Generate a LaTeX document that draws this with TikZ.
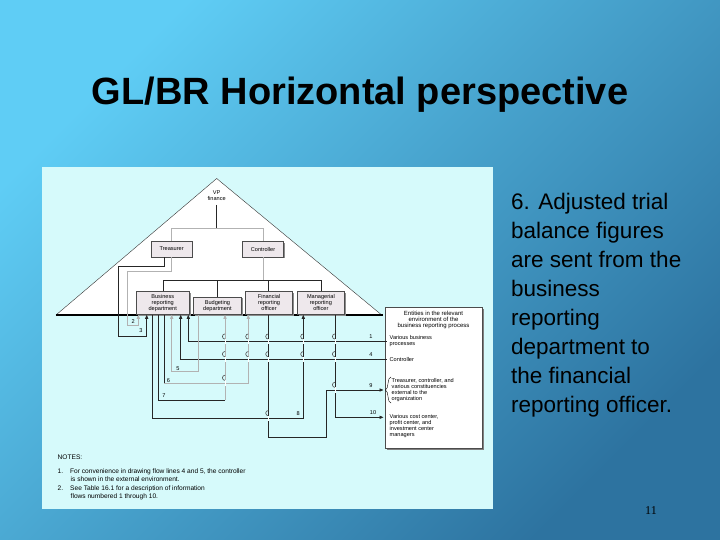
\documentclass[tikz,border=0pt]{standalone}
\usepackage{fontspec}
\setmainfont{Liberation Sans}
\setsansfont{Liberation Sans}
\newfontfamily\pgserif{Liberation Serif}
\usetikzlibrary{arrows.meta,calc}
\definecolor{panel}{HTML}{D6FAFB}
\definecolor{boxf}{HTML}{EEE8EC}
\definecolor{bgul}{RGB}{95,205,245}
\definecolor{bglr}{RGB}{45,115,160}
\begin{document}
\begin{tikzpicture}[x=1pt,y=-1pt,
  orgbox/.style={draw=black!70,fill=boxf,line width=0.5pt,inner sep=0pt,align=center,font=\fontsize{5.6}{6}\selectfont,anchor=north west},
  ln/.style={line width=0.7pt,black!85},
  gl/.style={line width=0.7pt,black!30},
  arr/.style={-{Triangle[length=4pt,width=3.2pt]}},
  small/.style={font=\fontsize{5.6}{6.2}\selectfont,inner sep=0.5pt},
  rtext/.style={font=\fontsize{22.5}{29}\selectfont,align=left,anchor=north west,inner sep=0pt}]
\useasboundingbox (0,0) rectangle (720,540);
\shade[top color=bgul,bottom color=bglr,shading angle=45] (0,0) rectangle (720,540);
\node (title) at (360,95) {\fontsize{38}{40}\selectfont\bfseries GL/BR Horizontal perspective};
% panel
\fill[panel] (42,167) rectangle (493,509);
% triangle
\coordinate (apex) at (216.7,178.5);
\coordinate (bl) at (56,315);
\coordinate (br) at (381.7,315);
\fill[white] (apex) -- (br) -- (bl) -- cycle;
\draw[line width=0.4pt,black!80] (bl) -- (apex) -- (br);
\draw[line width=1.2pt] (bl) -- (383,315);
\node[small,align=center] (vp) at (216.7,196) {VP\\finance};
% boxes
\newcommand\obox[6]{\fill[black!45] (#2+1.5,#3+1.5) rectangle (#4+1.5,#5+1.5);
  \node[orgbox,minimum width=#4-#2,minimum height=#5-#3] (#1) at (#2,#3) {#6};}
\obox{tre}{151}{241}{191.7}{256.7}{Treasurer}
\obox{con}{242.3}{241}{283.3}{256.7}{Controller}
\obox{bus}{136}{291}{189}{314.3}{Business\\reporting\\department}
\obox{bud}{193.3}{296.7}{241}{314.3}{Budgeting\\department}
\obox{fin}{245.3}{291}{292.3}{314.3}{Financial\\reporting\\officer}
\obox{man}{297.3}{291}{344}{314.3}{Managerial\\reporting\\officer}
% entity box
\fill[black!50] (387,309) rectangle (484,450);
\node[draw=black!70,fill=white,minimum width=97pt,minimum height=141pt,anchor=north west,inner sep=0pt] (ent) at (385,307) {};
% org lines
\draw[ln] (216.7,205) -- (216.7,228.3);
\draw[gl] (171.7,228.3) -- (263.3,228.3);
\draw[gl] (171.7,228.3) -- (171.7,0 |- tre.north);
\draw[gl] (263.3,228.3) -- (263.3,0 |- con.north);
\draw[gl] (263.3,0 |- con.south) -- (263.3,280);
\draw[ln] (163.3,280) -- (321.7,280);
\foreach \xx/\bx in {163.3/bus,217.3/bud,268.3/fin,321.7/man}
  \draw[ln] (\xx,280) -- (\xx,0 |- \bx.north);
% entity texts
\node[small,align=center,font=\fontsize{6}{6.4}\selectfont] (et) at (433.5,320) {Entities in the relevant\\environment of the\\business reporting process};
\node[small,align=left,anchor=west] (e1) at (389,341) {Various business\\processes};
\node[small,align=left,anchor=west] (e4) at (389,359) {Controller};
\node[small,align=left,anchor=west] (e9) at (391,390) {Treasurer, controller, and\\various constituencies\\external to the\\organization};
\draw[line width=0.4pt] (391,377) .. controls (387,377) and (389,389) .. (385.5,390) .. controls (389,391) and (387,403) .. (391,403);
\node[small,align=left,anchor=west] (e10) at (389,426) {Various cost center,\\profit center, and\\investment center\\managers};
\coordinate (x1) at (386.7,341.7);
\coordinate (x4) at (386.7,359.3);
% flow 2 and 3 (treasurer)
\draw[gl,arr] (171.7,0 |- tre.south) -- (171.7,271) -- (127.7,271) -- (127.7,325) -- (138.3,325) -- (138.3,0 |- bus.south);
\draw[ln,arr] (164.3,0 |- tre.south) -- (164.3,266.7) -- (118.3,266.7) -- (118.3,336) -- (146.7,336) -- (146.7,0 |- bus.south);
\node[small] (l2) at (133.3,321.5) {2};
\node[small] (l3) at (141,331) {3};
% flow 1 and 4
\draw[ln,arr] (x1) -- (188.3,341.7) -- (188.3,0 |- bus.south);
\draw[ln,arr] (x4) -- (180.7,359.3) -- (180.7,0 |- bus.south);
\node[small] (l1) at (371,337) {1};
\node[small] (l4) at (371,354.5) {4};
% flow 5
\draw[gl,arr] (198.3,0 |- bud.south) -- (198.3,371.7) -- (171.7,371.7) -- (171.7,0 |- bus.south);
\node[small] (l5) at (178,369) {5};
% flow 6
\draw[ln] (164.3,0 |- bus.south) -- (164.3,383);
\draw[gl,arr] (164.3,383) -- (248.3,383) -- (248.3,0 |- fin.south);
\node[small] (l6) at (168.5,381) {6};
% flow 7
\draw[ln] (158.3,0 |- bus.south) -- (158.3,400) -- (225,400);
\draw[gl,arr] (225,400) -- (225,0 |- bud.south);
\node[small] (l7) at (164,396) {7};
% flow 8
\draw[ln,arr] (152.3,0 |- bus.south) -- (152.3,418.3) -- (303.3,418.3) -- (303.3,0 |- man.south);
\node[small] (l8) at (298.3,413.5) {8};
% flow 9
\draw[ln,arr] (268.3,0 |- fin.south) -- (268.3,437.3) -- (326.7,437.3) -- (326.7,390) -- (383.5,390);
\node[small] (l9) at (371,386) {9};
% flow 10
\draw[ln,arr] (335,0 |- man.south) -- (335,417.3) -- (383.5,417.3);
\node[small] (l10) at (373,413) {10};
% hops
\newcommand\hopv[2]{\fill[white] (#1-0.4,#2-2.6) rectangle (#1+0.4,#2+2.6);
  \draw[line width=0.6pt,black!70] (#1,#2-2.6) arc[start angle=90,end angle=270,radius=2.6];}
\foreach \hx in {225,248.3,268.3,303.3,335} {\hopv{\hx}{341.7}\hopv{\hx}{359.3}}
\hopv{225}{383}
\hopv{268.3}{418.3}
\hopv{335}{390}
% notes
\node[small,anchor=west,font=\fontsize{6.6}{7}\selectfont] (notes) at (57,457) {NOTES:};
\node[small,anchor=north west,align=left,font=\fontsize{6.6}{7.6}\selectfont] (n1) at (57,468) {1.\hspace{7pt}For convenience in drawing flow lines 4 and 5, the controller\\\hspace{13pt}is shown in the external environment.};
\node[small,anchor=north west,align=left,font=\fontsize{6.6}{7.6}\selectfont] (n2) at (57,485) {2.\hspace{7pt}See Table 16.1 for a description of information\\\hspace{13pt}flows numbered 1 through 10.};
% right text
\node[rtext] (txt) at (511,193) {6. Adjusted trial\\balance figures\\are sent from the\\business\\reporting\\department to\\the financial\\reporting officer.};
\node[font=\fontsize{12}{12}\pgserif] (pg) at (651,511) {11};
\end{tikzpicture}
\end{document}
